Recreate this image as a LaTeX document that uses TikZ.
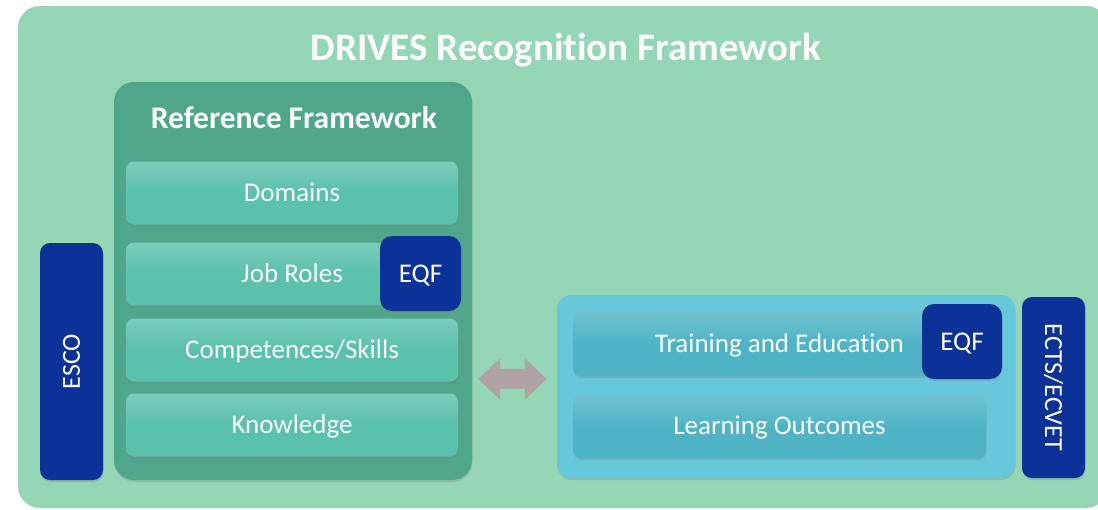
\documentclass[tikz,border=0pt]{standalone}
\usepackage{fontspec}
\setmainfont{Carlito}[Ligatures=NoCommon]
\definecolor{mint}{HTML}{94D6B6}
\definecolor{sea}{HTML}{50A68A}
\definecolor{jade}{HTML}{5AC1AA}
\definecolor{sky}{HTML}{68C8DB}
\definecolor{lagoon}{HTML}{4EB4C5}
\definecolor{db}{HTML}{0C3298}
\definecolor{taupe}{HTML}{AFA3A6}
\usetikzlibrary{arrows.meta}
\usetikzlibrary{shadows}

\begin{document}
\begin{tikzpicture}[x=1pt,y=-1pt,
	txt/.style={text=white,font=\fontsize{27}{32}\selectfont,inner sep=0pt},
	caps/.style={text height=17.4pt,text depth=0pt},
	shade/.style={drop shadow={shadow xshift=0.5pt,shadow yshift=-2pt,opacity=.3}},
	item/.style={txt,caps,shade,rounded corners=8pt,minimum height=63,
		top color=#1!80!white,bottom color=#1,middle color=#1},
	badge/.style={txt,shade,fill=db,rounded corners=12pt},
	bigarrow/.style={taupe,line width=20pt,
		{Triangle[width=40pt,length=22pt]}-{Triangle[width=40pt,length=22pt]}}]
	\useasboundingbox (0,0) rectangle (1098,509);
	\clip (0,0) rectangle (1098,509);
	\fill[white] (0,0) rectangle (1098,509);
	\filldraw[mint,draw=gray!35,rounded corners=22pt] (18,6) rectangle (1108,508);
	\node[txt,font=\bfseries\fontsize{39}{44}\selectfont,anchor=base] (title) at (566,60) {DRIVES Recognition Framework};
	%reference framework
	\node[shade,fill=sea,rounded corners=20pt,minimum width=358,minimum height=398] (ref) at (293,281) {};
	\node[txt,font=\bfseries\fontsize{31.5}{36}\selectfont,anchor=base] (reftitle) at (294,128) {Reference Framework};
	\foreach \yy/\lbl [count=\i] in {193/Domains, 274/Job Roles, 350/{Competences/Skills}, 425/Knowledge}
	\node[item=jade,minimum width=332] (l\i) at (292,\yy) {\lbl};
	\node[badge,caps,minimum width=81,minimum height=75] (eqf1) at (420.5,273.5) {EQF};
	\node[badge,minimum width=63,minimum height=237,rounded corners=10pt] (esco) at (71.5,361.5) {\rotatebox{90}{\fontsize{26}{30}\selectfont ESCO}};
	%training side
	\node[shade,fill=sky,rounded corners=14pt,minimum width=458,minimum height=183] (study) at (786,386.5) {};
	\node[item=lagoon,minimum width=413,minimum height=65] (r1) at (779.5,343.5) {Training and Education};
	\node[item=lagoon,minimum width=413,minimum height=64] (r2) at (779.5,426) {Learning Outcomes};
	\node[badge,caps,minimum width=80,minimum height=75] (eqf2) at (962,341.5) {EQF};
	\node[badge,minimum width=63,minimum height=181,rounded corners=10pt] (ects) at (1053.5,387.5) {\rotatebox{-90}{\fontsize{26}{30}\selectfont ECTS/ECVET}};
	\coordinate (axis) at (512,379);
	\draw[bigarrow,shorten <=6pt,shorten >=10pt] (ref.east |- axis) -- (study.west |- axis);
\end{tikzpicture}
\end{document}
